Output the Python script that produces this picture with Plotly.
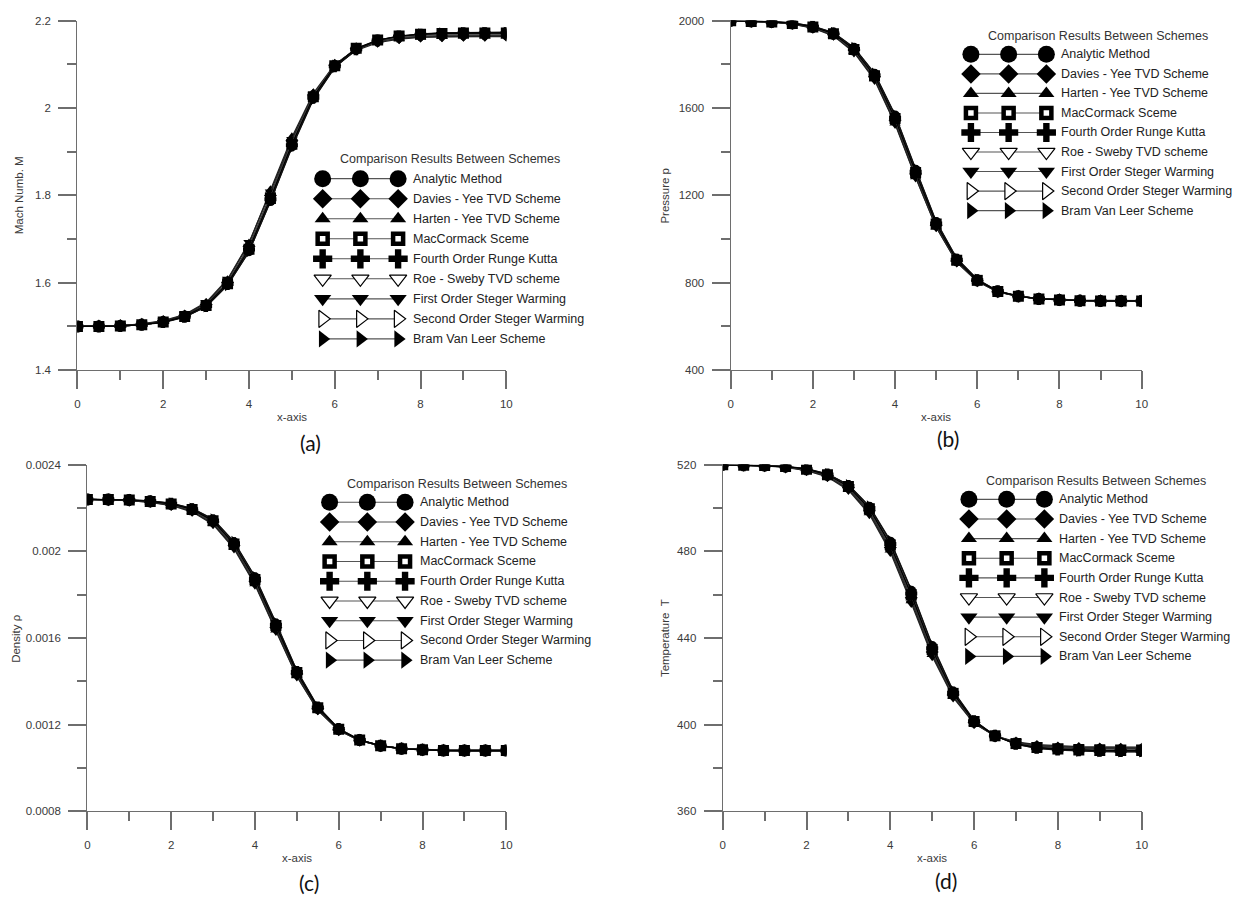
import plotly.graph_objects as go

W, H = 1239, 900

# ---------------- data ----------------
x_vals = [0.0, 0.5, 1.0, 1.5, 2.0, 2.5, 3.0, 3.5, 4.0, 4.5, 5.0,
          5.5, 6.0, 6.5, 7.0, 7.5, 8.0, 8.5, 9.0, 9.5, 10.0]

schemes = ["Analytic Method", "Davies - Yee TVD Scheme", "Harten - Yee TVD Scheme",
           "MacCormack Sceme", "Fourth Order Runge Kutta", "Roe - Sweby TVD scheme",
           "First Order Steger Warming", "Second Order Steger Warming", "Bram Van Leer Scheme"]

# Mach number
mach_analytic = [1.500, 1.500, 1.501, 1.504, 1.510, 1.522, 1.546, 1.595, 1.672, 1.787, 1.912, 2.022, 2.094, 2.134, 2.154, 2.164, 2.169, 2.172, 2.173, 2.174, 2.174]
mach_davies = [1.500, 1.501, 1.502, 1.505, 1.511, 1.524, 1.550, 1.601, 1.683, 1.800, 1.925, 2.030, 2.098, 2.136, 2.154, 2.162, 2.165, 2.166, 2.167, 2.167, 2.167]
mach_harten = [1.500, 1.501, 1.502, 1.505, 1.512, 1.526, 1.553, 1.606, 1.690, 1.812, 1.933, 2.034, 2.100, 2.136, 2.153, 2.160, 2.163, 2.164, 2.165, 2.165, 2.165]
mach_maccormack = [1.500, 1.500, 1.501, 1.504, 1.510, 1.523, 1.548, 1.598, 1.677, 1.793, 1.917, 2.026, 2.097, 2.137, 2.156, 2.165, 2.169, 2.171, 2.172, 2.172, 2.172]
mach_rk4 = [1.500, 1.500, 1.501, 1.504, 1.510, 1.522, 1.547, 1.597, 1.676, 1.791, 1.915, 2.024, 2.096, 2.135, 2.155, 2.164, 2.168, 2.170, 2.171, 2.171, 2.171]
mach_roe = [1.500, 1.500, 1.501, 1.504, 1.510, 1.523, 1.549, 1.600, 1.681, 1.798, 1.922, 2.029, 2.098, 2.135, 2.153, 2.161, 2.164, 2.165, 2.166, 2.166, 2.166]
mach_sw1 = [1.500, 1.501, 1.502, 1.506, 1.513, 1.527, 1.555, 1.608, 1.692, 1.808, 1.928, 2.030, 2.096, 2.132, 2.150, 2.158, 2.162, 2.163, 2.164, 2.164, 2.164]
mach_sw2 = [1.500, 1.500, 1.501, 1.504, 1.510, 1.522, 1.547, 1.597, 1.677, 1.795, 1.920, 2.028, 2.098, 2.136, 2.155, 2.163, 2.167, 2.168, 2.169, 2.169, 2.169]
mach_vanleer = [1.500, 1.500, 1.501, 1.504, 1.509, 1.521, 1.545, 1.594, 1.671, 1.786, 1.910, 2.020, 2.093, 2.134, 2.155, 2.165, 2.170, 2.172, 2.173, 2.173, 2.173]

# Pressure
p_analytic = [2000, 1998, 1996, 1990, 1975, 1945, 1876, 1757, 1566, 1318, 1078, 910, 815, 762, 739, 727, 721, 718, 717, 716, 716]
p_davies = [2000, 1997, 1995, 1988, 1971, 1939, 1866, 1744, 1545, 1298, 1064, 900, 809, 759, 738, 727, 722, 719, 718, 717, 717]
p_harten = [2000, 1997, 1994, 1986, 1968, 1934, 1859, 1734, 1532, 1286, 1056, 895, 807, 758, 738, 727, 722, 719, 718, 718, 718]
p_maccormack = [2000, 1997, 1995, 1988, 1972, 1941, 1869, 1748, 1552, 1305, 1069, 903, 811, 760, 738, 726, 721, 718, 717, 717, 717]
p_rk4 = [2000, 1998, 1995, 1989, 1973, 1942, 1871, 1750, 1556, 1309, 1072, 905, 812, 761, 738, 726, 721, 718, 717, 717, 717]
p_roe = [2000, 1997, 1995, 1987, 1970, 1938, 1865, 1742, 1543, 1296, 1063, 899, 809, 759, 738, 727, 722, 719, 718, 717, 717]
p_sw1 = [2000, 1997, 1994, 1985, 1966, 1931, 1855, 1729, 1527, 1282, 1054, 894, 806, 758, 738, 728, 723, 720, 719, 718, 718]
p_sw2 = [2000, 1997, 1995, 1988, 1972, 1940, 1868, 1747, 1550, 1303, 1068, 902, 811, 760, 738, 726, 721, 718, 717, 717, 717]
p_vanleer = [2000, 1998, 1996, 1990, 1976, 1946, 1878, 1760, 1570, 1322, 1081, 912, 816, 762, 739, 727, 721, 718, 716, 716, 716]

# Density
rho_analytic = [0.002240, 0.002240, 0.002238, 0.002233, 0.002222, 0.002198, 0.002147, 0.002042, 0.001880, 0.001667, 0.001447, 0.001281, 0.001180, 0.001129, 0.001103, 0.001089, 0.001083, 0.001080, 0.001079, 0.001079, 0.001079]
rho_davies = [0.002240, 0.002239, 0.002236, 0.002230, 0.002217, 0.002191, 0.002136, 0.002027, 0.001862, 0.001648, 0.001433, 0.001273, 0.001176, 0.001127, 0.001102, 0.001089, 0.001084, 0.001081, 0.001080, 0.001080, 0.001080]
rho_harten = [0.002240, 0.002239, 0.002235, 0.002228, 0.002214, 0.002186, 0.002129, 0.002018, 0.001851, 0.001637, 0.001425, 0.001268, 0.001174, 0.001126, 0.001102, 0.001089, 0.001084, 0.001081, 0.001080, 0.001080, 0.001080]
rho_maccormack = [0.002240, 0.002240, 0.002237, 0.002231, 0.002219, 0.002194, 0.002141, 0.002034, 0.001870, 0.001657, 0.001440, 0.001277, 0.001178, 0.001128, 0.001102, 0.001088, 0.001083, 0.001080, 0.001080, 0.001080, 0.001080]
rho_rk4 = [0.002240, 0.002240, 0.002237, 0.002232, 0.002220, 0.002195, 0.002143, 0.002037, 0.001874, 0.001661, 0.001443, 0.001279, 0.001179, 0.001128, 0.001102, 0.001088, 0.001083, 0.001080, 0.001080, 0.001080, 0.001080]
rho_roe = [0.002240, 0.002239, 0.002236, 0.002230, 0.002217, 0.002190, 0.002135, 0.002025, 0.001860, 0.001646, 0.001432, 0.001272, 0.001176, 0.001127, 0.001102, 0.001089, 0.001084, 0.001081, 0.001080, 0.001080, 0.001080]
rho_sw1 = [0.002240, 0.002239, 0.002235, 0.002227, 0.002212, 0.002183, 0.002125, 0.002013, 0.001846, 0.001632, 0.001422, 0.001266, 0.001173, 0.001126, 0.001103, 0.001090, 0.001085, 0.001082, 0.001081, 0.001081, 0.001081]
rho_sw2 = [0.002240, 0.002240, 0.002237, 0.002231, 0.002219, 0.002193, 0.002140, 0.002033, 0.001869, 0.001656, 0.001439, 0.001277, 0.001178, 0.001128, 0.001102, 0.001088, 0.001083, 0.001080, 0.001080, 0.001080, 0.001080]
rho_vanleer = [0.002240, 0.002240, 0.002238, 0.002233, 0.002223, 0.002199, 0.002149, 0.002045, 0.001884, 0.001671, 0.001450, 0.001283, 0.001181, 0.001129, 0.001103, 0.001089, 0.001083, 0.001080, 0.001079, 0.001079, 0.001079]

# Temperature
t_analytic = [520.0, 519.8, 519.7, 519.2, 518.1, 515.7, 510.6, 500.6, 484.5, 461.8, 436.3, 415.3, 401.8, 394.8, 391.0, 389.1, 388.3, 387.8, 387.6, 387.5, 387.5]
t_davies = [520.0, 519.8, 519.6, 519.0, 517.8, 515.1, 509.4, 498.8, 481.8, 458.6, 433.5, 413.6, 401.0, 394.7, 391.5, 389.9, 389.2, 388.9, 388.7, 388.6, 388.6]
t_harten = [520.0, 519.8, 519.6, 518.9, 517.5, 514.7, 508.8, 497.9, 480.6, 457.2, 432.4, 413.0, 400.7, 394.7, 391.7, 390.2, 389.6, 389.3, 389.1, 389.0, 389.0]
t_maccormack = [520.0, 519.8, 519.7, 519.2, 518.0, 515.4, 510.0, 499.7, 483.0, 460.0, 434.7, 414.4, 401.4, 394.8, 391.2, 389.4, 388.7, 388.2, 388.0, 388.0, 388.0]
t_rk4 = [520.0, 519.8, 519.7, 519.2, 518.0, 515.5, 510.2, 500.0, 483.4, 460.5, 435.2, 414.7, 401.5, 394.8, 391.1, 389.3, 388.5, 388.1, 387.9, 387.8, 387.8]
t_roe = [520.0, 519.8, 519.6, 519.0, 517.7, 515.0, 509.3, 498.6, 481.5, 458.3, 433.2, 413.4, 400.9, 394.8, 391.8, 390.3, 389.7, 389.4, 389.3, 389.2, 389.2]
t_sw1 = [520.0, 519.8, 519.5, 518.8, 517.3, 514.4, 508.3, 497.2, 479.7, 456.2, 431.6, 412.5, 400.5, 394.8, 392.0, 390.7, 390.1, 389.8, 389.7, 389.6, 389.6]
t_sw2 = [520.0, 519.8, 519.7, 519.1, 517.9, 515.3, 509.9, 499.5, 482.7, 459.7, 434.4, 414.2, 401.3, 394.8, 391.3, 389.5, 388.8, 388.4, 388.2, 388.1, 388.1]
t_vanleer = [520.0, 519.8, 519.7, 519.3, 518.2, 515.8, 510.8, 500.9, 485.0, 462.3, 436.8, 415.6, 401.9, 394.8, 390.9, 389.0, 388.2, 387.7, 387.5, 387.4, 387.4]

x_tickvals = [0, 2, 4, 6, 8, 10]
x_ticktext = ["0", "2", "4", "6", "8", "10"]

mach_ticks = [1.4, 1.6, 1.8, 2.0, 2.2]
mach_ticktext = ["1.4", "1.6", "1.8", "2", "2.2"]
p_ticks = [400, 800, 1200, 1600, 2000]
p_ticktext = ["400", "800", "1200", "1600", "2000"]
rho_ticks = [0.0008, 0.0012, 0.0016, 0.0020, 0.0024]
rho_ticktext = ["0.0008", "0.0012", "0.0016", "0.002", "0.0024"]
t_ticks = [360, 400, 440, 480, 520]
t_ticktext = ["360", "400", "440", "480", "520"]

legend_title = "Comparison Results Between Schemes"

# ---------------- styling / layout ----------------
FONT = "Liberation Sans, Arial, sans-serif"
AXIS_COLOR = "#6e6e6e"
TICK_W = 1.6

styles = [
    dict(symbol="circle", fill="black", lw=0, dsize=10, lsize=17),
    dict(symbol="diamond", fill="black", lw=0, dsize=10, lsize=15),
    dict(symbol="triangle-up", fill="black", lw=0, dsize=10, lsize=14),
    dict(symbol="square", fill="white", lw=4.5, dsize=11, lsize=10),
    dict(symbol="cross", fill="black", lw=0, dsize=10, lsize=16),
    dict(symbol="triangle-down", fill="white", lw=1.2, dsize=10, lsize=15),
    dict(symbol="triangle-down", fill="black", lw=0, dsize=10, lsize=15),
    dict(symbol="triangle-right", fill="white", lw=1.2, dsize=10, lsize=15),
    dict(symbol="triangle-right", fill="black", lw=0, dsize=10, lsize=15),
]
line_colors = ["#111", "#333", "#222", "#000", "#444", "#333", "#222", "#555", "#111"]

panels = [
    dict(label="(a)", ytitle="Mach Numb. M",
         series=[mach_analytic, mach_davies, mach_harten, mach_maccormack, mach_rk4,
                 mach_roe, mach_sw1, mach_sw2, mach_vanleer],
         ytv=mach_ticks, ytt=mach_ticktext, minor=0.1,
         box=(75, 507, 15, 369), ytitle_x=17, label_xy=(310, 442),
         leg=dict(text_x=411, title_y=155, row0=175, dy=20.3)),
    dict(label="(b)", ytitle="Pressure p",
         series=[p_analytic, p_davies, p_harten, p_maccormack, p_rk4,
                 p_roe, p_sw1, p_sw2, p_vanleer],
         ytv=p_ticks, ytt=p_ticktext, minor=200,
         box=(733, 1147, 15, 369), ytitle_x=667, label_xy=(952, 438),
         leg=dict(text_x=1064, title_y=30, row0=49, dy=19.8)),
    dict(label="(c)", ytitle="Density ρ",
         series=[rho_analytic, rho_davies, rho_harten, rho_maccormack, rho_rk4,
                 rho_roe, rho_sw1, rho_sw2, rho_vanleer],
         ytv=rho_ticks, ytt=rho_ticktext, minor=0.0002,
         box=(85, 507, 465, 816), ytitle_x=13, label_xy=(308, 888),
         leg=dict(text_x=418, title_y=484, row0=503, dy=20.0)),
    dict(label="(d)", ytitle="Temperature  T",
         series=[t_analytic, t_davies, t_harten, t_maccormack, t_rk4,
                 t_roe, t_sw1, t_sw2, t_vanleer],
         ytv=t_ticks, ytt=t_ticktext, minor=20,
         box=(725, 1147, 465, 816), ytitle_x=667, label_xy=(950, 886),
         leg=dict(text_x=1062, title_y=481, row0=500, dy=19.9)),
]

LEG_MARKER_OFFSETS = [-89, -51, -13]
LEG_TITLE_OFFSET = 39

fig = go.Figure()
annotations = []
layout_axes = {}

draw_order = [0, 1, 2, 4, 5, 6, 7, 8, 3]  # MacCormack squares on top

for k, pnl in enumerate(panels):
    n = "" if k == 0 else str(k + 1)
    xa, ya = "x" + n, "y" + n
    x0, x1, ytop, ybot = pnl["box"]
    yr = [pnl["ytv"][0], pnl["ytv"][-1]]

    for i in draw_order:
        st = styles[i]
        fig.add_trace(go.Scatter(
            x=x_vals, y=pnl["series"][i], xaxis=xa, yaxis=ya, mode="lines+markers",
            name=schemes[i], showlegend=False, hoverinfo="skip",
            line=dict(color=line_colors[i], width=1.3),
            marker=dict(symbol=st["symbol"], size=st["dsize"], color="black",
                        line=dict(width=0)),
        ))

    common = dict(showline=True, linecolor=AXIS_COLOR, linewidth=1.3, showgrid=False,
                  zeroline=False, ticks="outside", ticklen=18, tickcolor=AXIS_COLOR,
                  tickwidth=TICK_W, ticklabelstandoff=5,
                  tickfont=dict(family=FONT, size=11.5, color="#3a3a3a"))
    layout_axes["xaxis" + n] = dict(
        common, domain=[x0 / W, x1 / W], anchor=ya, range=[0, 10],
        tickmode="array", tickvals=x_tickvals, ticktext=x_ticktext,
        minor=dict(dtick=1, tick0=0, ticks="outside", ticklen=9, tickwidth=TICK_W,
                   tickcolor=AXIS_COLOR, showgrid=False))
    layout_axes["yaxis" + n] = dict(
        common, domain=[1 - ybot / H, 1 - ytop / H], anchor=xa, range=yr,
        tickmode="array", tickvals=pnl["ytv"], ticktext=pnl["ytt"],
        minor=dict(dtick=pnl["minor"], tick0=yr[0], ticks="outside", ticklen=9,
                   tickwidth=TICK_W, tickcolor=AXIS_COLOR, showgrid=False))

    annotations.append(dict(text="x-axis", xref="paper", yref="paper",
                            x=(x0 + x1) / 2 / W, y=1 - (ybot + 48) / H,
                            showarrow=False, xanchor="center", yanchor="middle",
                            font=dict(family=FONT, size=11.5, color="#3a3a3a")))
    annotations.append(dict(text=pnl["ytitle"], xref="paper", yref="paper",
                            x=pnl["ytitle_x"] / W, y=1 - (ytop + ybot) / 2 / H,
                            textangle=-90, showarrow=False, xanchor="center", yanchor="middle",
                            font=dict(family=FONT, size=11.5, color="#3a3a3a")))
    lx, ly = pnl["label_xy"]
    annotations.append(dict(text=pnl["label"], xref="paper", yref="paper",
                            x=lx / W, y=1 - ly / H, showarrow=False,
                            xanchor="center", yanchor="middle",
                            font=dict(family="Lato, Carlito, sans-serif", size=21, color="#111")))

    lg = pnl["leg"]
    annotations.append(dict(text=legend_title, xref="paper", yref="paper",
                            x=(lg["text_x"] + LEG_TITLE_OFFSET) / W, y=1 - lg["title_y"] / H,
                            showarrow=False, xanchor="center", yanchor="middle",
                            font=dict(family=FONT, size=12.5, color="#333")))
    for i, name in enumerate(schemes):
        ry = lg["row0"] + i * lg["dy"]
        st = styles[i]
        fig.add_trace(go.Scatter(
            x=[lg["text_x"] + o for o in LEG_MARKER_OFFSETS], y=[ry] * 3,
            xaxis="x5", yaxis="y5", mode="lines+markers", showlegend=False, hoverinfo="skip",
            line=dict(color="#555", width=1.1),
            marker=dict(symbol=st["symbol"], size=st["lsize"], color=st["fill"],
                        line=dict(color="black", width=st["lw"])),
        ))
        annotations.append(dict(text=name, xref="paper", yref="paper",
                                x=lg["text_x"] / W, y=1 - ry / H, showarrow=False,
                                xanchor="left", yanchor="middle",
                                font=dict(family=FONT, size=12.5, color="#222")))

layout_axes["xaxis5"] = dict(domain=[0, 1], range=[0, W], visible=False, anchor="y5", fixedrange=True)
layout_axes["yaxis5"] = dict(domain=[0, 1], range=[H, 0], visible=False, anchor="x5", fixedrange=True)

fig.update_layout(
    width=W, height=H, margin=dict(l=0, r=0, t=0, b=0),
    paper_bgcolor="white", plot_bgcolor="rgba(0,0,0,0)",
    showlegend=False, annotations=annotations,
    font=dict(family=FONT),
    **layout_axes,
)

fig.write_html("out.html", post_script="document.body.style.margin='0';",
               config={"displayModeBar": False})
